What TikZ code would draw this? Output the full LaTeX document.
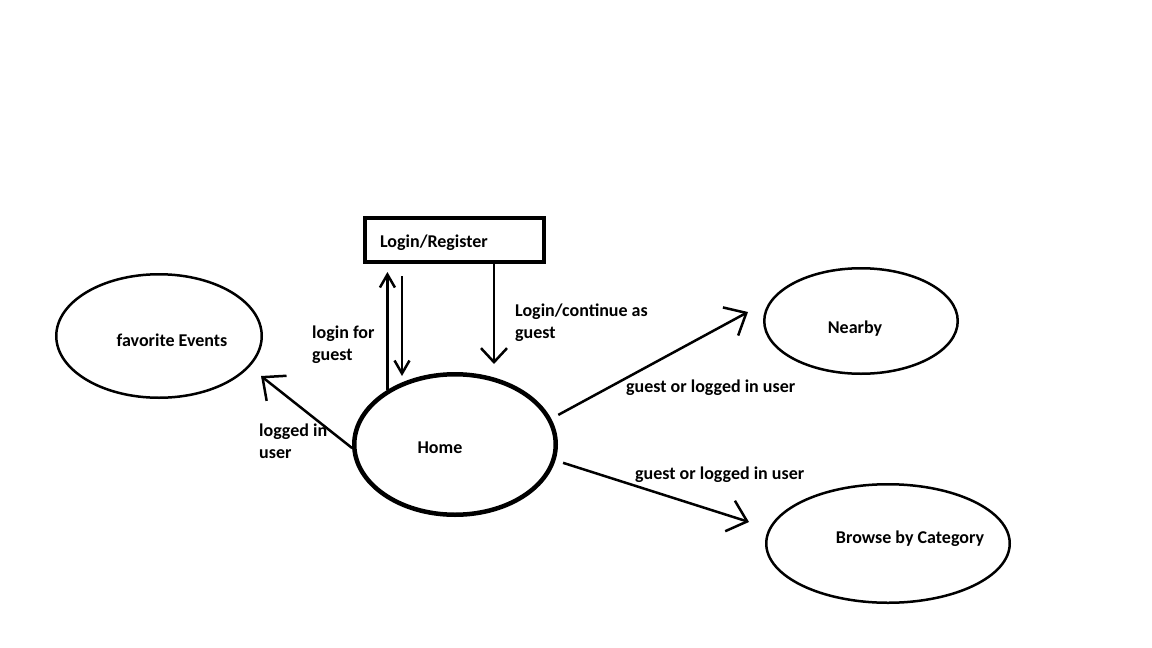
\documentclass[tikz,border=0pt]{standalone}
\usepackage{fontspec}
\setmainfont{Carlito}
\usetikzlibrary{shapes.geometric,arrows.meta}
\begin{document}
\begin{tikzpicture}[x=1pt,y=-1pt,
  every node/.style={font=\bfseries\fontsize{18}{22}\selectfont},
  oval/.style={draw, ellipse, line width=2.5pt, inner sep=0pt},
  lbl/.style={anchor=west, align=left, inner sep=0pt},
  bigarr/.style={line width=2.5pt, -{Straight Barb[length=18pt,width=32pt,line width=2.5pt]}},
  medarr/.style={line width=2.5pt, -{Straight Barb[length=14pt,width=26pt,line width=2.5pt]}},
  smallarr/.style={line width=2.5pt, -{Straight Barb[length=13pt,width=15pt,line width=2.5pt]}}]
\useasboundingbox (0,0) rectangle (1152,648);
\fill[white] (0,0) rectangle (1152,648);

% nodes
\node[draw, rectangle, line width=4pt, inner sep=0pt, minimum width=179pt, minimum height=44pt,
      label={[xshift=-20.5pt,yshift=-2.5pt]center:Login/Register}] (box) at (454.5,240) {};
\node[oval, line width=4.5pt, minimum width=201.5pt, minimum height=140.5pt,
      label={[xshift=-15pt,yshift=-3pt]center:Home}] (home) at (455,444.5) {};
\node[oval, minimum width=205.5pt, minimum height=123.5pt,
      label={[xshift=13pt,yshift=-4pt]center:favorite Events}] (fav) at (159,336) {};
\node[oval, minimum width=193.5pt, minimum height=105.5pt,
      label={[xshift=-6pt,yshift=-8pt]center:Nearby}] (near) at (861,321) {};
\node[oval, minimum width=243.5pt, minimum height=118.5pt,
      label={[xshift=22pt,yshift=5pt]center:Browse by Category}] (browse) at (888,543.5) {};

% free arrow ends
\coordinate (upTip) at (389,272);
\coordinate (downTip) at (402,376);
\coordinate (guestTip) at (494,364);
\coordinate (favTip) at (261,376);
\coordinate (nearTip) at (748,312);
\coordinate (browseTip) at (749,522);

% connectors
\draw[smallarr] (home.141) -- (home.141 |- upTip);
\draw[smallarr, shorten <=12pt] (box.south -| downTip) -- (downTip);
\draw[medarr] (box.south -| guestTip) -- (guestTip);
\draw[bigarr] (home.182) -- (favTip);
\draw[bigarr, shorten <=8pt] (home.15) -- (nearTip);
\draw[bigarr, shorten <=8pt] (home.-9) -- (browseTip);

% labels
\node[lbl] (lLoginGuest) at (312,345) {login for\\guest};
\node[lbl] (lContinue) at (515,323) {Login/continue as\\guest};
\node[lbl] (lLogged) at (259,441) {logged in\\user};
\node[lbl] (lNear) at (626,388) {guest or logged in user};
\node[lbl] (lBrowse) at (635,475) {guest or logged in user};
\end{tikzpicture}
\end{document}
